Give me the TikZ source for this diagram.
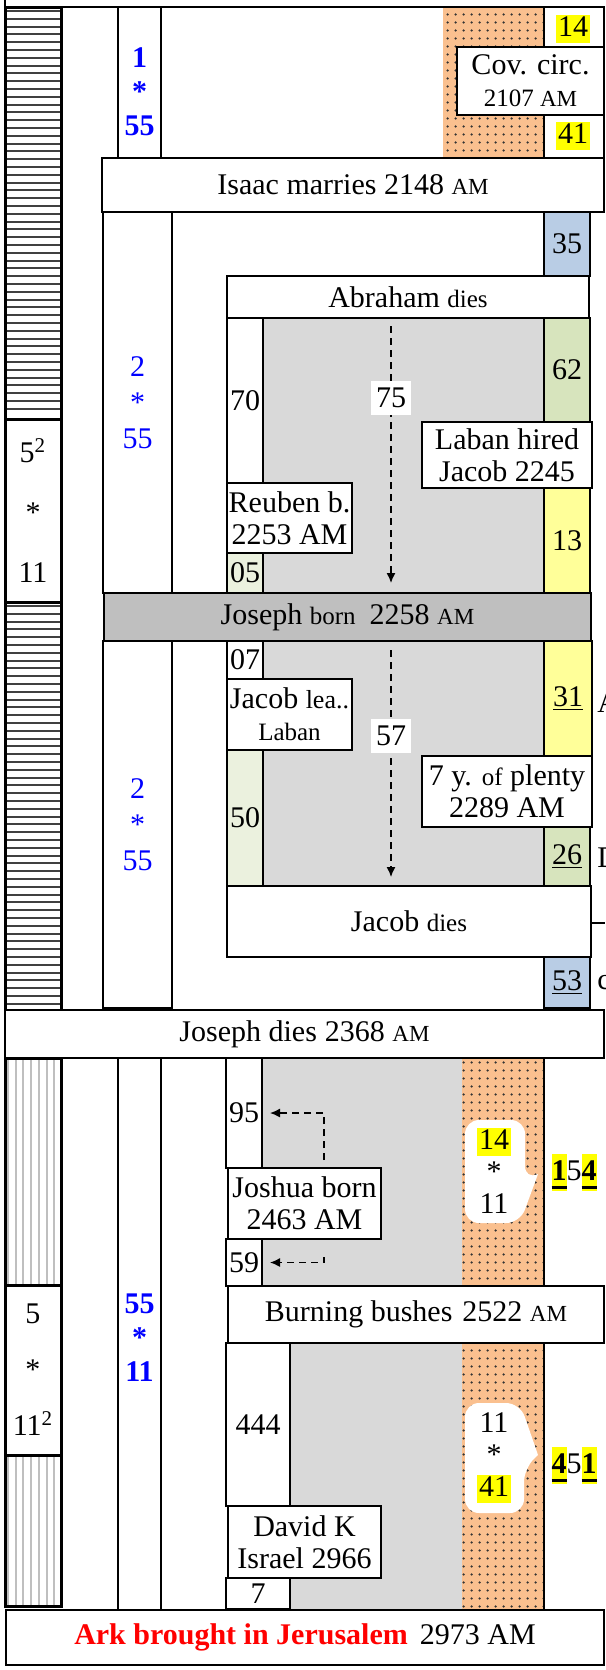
\documentclass[tikz,border=0pt]{standalone}
\usepackage{fontspec}
\setmainfont{Liberation Serif}
\usepackage{xcolor}
\usetikzlibrary{arrows.meta,patterns.meta}
\definecolor{numblue}{RGB}{0,0,255}
\definecolor{arkred}{RGB}{255,0,0}
\definecolor{lifegray}{RGB}{217,217,217}
\definecolor{bargray}{RGB}{191,191,191}
\definecolor{bandorange}{RGB}{250,192,143}
\definecolor{cellblue}{RGB}{185,205,229}
\definecolor{cellgreen}{RGB}{215,228,189}
\definecolor{palegreen}{RGB}{235,241,222}
\definecolor{cellyellow}{RGB}{255,255,153}
\definecolor{hlyellow}{RGB}{255,255,0}
\newsavebox{\digbox}
\newcommand{\sam}{{\fontsize{11.5}{12}\selectfont AM}}
\newcommand{\sml}[1]{{\fontsize{12.5}{13}\selectfont #1}}
\newcommand{\hl}[1]{{\setlength{\fboxsep}{0.8pt}\colorbox{hlyellow}{\rule[-2.4pt]{0pt}{12.4pt}#1}}}
\newcommand{\hlul}[1]{{\setlength{\fboxsep}{0pt}\sbox{\digbox}{\textbf{#1}}%
  \colorbox{hlyellow}{\rule[-5pt]{0pt}{18.5pt}\rlap{\rule[-4.4pt]{\wd\digbox}{1.8pt}}\usebox{\digbox}}}}
% box from (x1,y1) to (x2,y2), pixel units
\newcommand{\databox}[7][]{%
  \node[cellbox,minimum width={(#5-#3)*0.5pt},minimum height={(#6-#4)*0.5pt},#1]
    (#2) at ({(#3+#5)/2},{(#4+#6)/2}) {#7};}
\tikzset{
  cellbox/.style={draw, line width=0.6pt, fill=white, inner sep=0pt, outer sep=0pt, align=center},
  colframe/.style={draw, line width=1.5pt},
  hatchline/.style={line width=1pt, black!75},
  vhatch/.style={line width=1pt, black!25},
  band/.style={preaction={fill=bandorange}, pattern={Dots[distance=4pt, radius=0.7pt]}, pattern color=black!80},
  dasharrow/.style={dash pattern=on 3.5pt off 2.5pt, line width=0.7pt, -{Latex[length=5pt,width=4.5pt]}},
  numlbl/.style={fill=white, inner xsep=2.5pt, inner ysep=3.5pt},
  bubble/.style={fill=white, rounded corners=7pt}
}
\begin{document}
\begin{tikzpicture}[x=0.5pt, y=-0.5pt, font=\fontsize{15}{16}\selectfont]
\useasboundingbox (0,0) rectangle (605,1670);
% backgrounds
\fill[lifegray] (263,318) rectangle (544,593);
\fill[lifegray] (263,641) rectangle (544,886);
\fill[lifegray] (262,1058) rectangle (462,1286);
\fill[lifegray] (290,1343) rectangle (462,1609);
\path[band] (443,7) rectangle (544,158);
\path[band] (462,1058) rectangle (544,1286);
\path[band] (462,1343) rectangle (544,1609);
\draw[line width=0.6pt] (544,1058) -- (544,1286);
\draw[line width=0.6pt] (544,1343) -- (544,1609);
\draw[line width=0.6pt] (5,0) -- (5,7) -- (604,7);
% left columns
\foreach \hy in {11,18.8,...,416} \draw[hatchline] (6,\hy) -- (60,\hy);
\foreach \hy in {606,613.8,...,1007} \draw[hatchline] (6,\hy) -- (60,\hy);
\foreach \vx in {8,15.7,...,59} {
  \draw[vhatch] (\vx,1058) -- (\vx,1285);
  \draw[vhatch] (\vx,1455) -- (\vx,1606);
}
\draw[colframe] (5,7) rectangle (61,1010);
\draw[colframe] (5,1058) rectangle (61,1606);
\databox[line width=1.5pt]{pow1}{5}{419}{61}{602}{5\textsuperscript{2}\\[14pt]{*}\\[14pt]11}
\databox[line width=1.5pt]{pow2}{5}{1285}{61}{1455}{5\\[12pt]{*}\\[12pt]11\textsuperscript{2}}
% top section
\databox{col1}{118}{7}{161}{158}{}
\node[text=numblue, font=\fontsize{15}{17}\selectfont\bfseries, align=center] (f1) at (139.5,92) {1\\{*}\\55};
\databox{rtop}{544}{7}{604}{158}{}
\node (n14) at (573,29) {\hl{14}};
\node (n41) at (573,136) {\hl{41}};
\databox{cov}{457}{47}{604}{115}{Cov. circ.\\\sml{2107 \sam}}
\databox{isaac}{102}{158}{604}{212}{Isaac marries 2148 \sam}
% upper middle
\databox[text=numblue]{col2a}{103}{212}{172}{593}{2\\[2pt]{*}\\[2pt]55}
\databox[fill=cellblue]{b35}{544}{212}{590}{276}{35}
\databox{abraham}{227}{276}{589}{318}{Abraham \sml{dies}}
\databox{b70}{227}{318}{263}{483}{70}
\databox[fill=cellgreen]{b62}{544}{318}{590}{422}{62}
\databox{laban}{422}{422}{592}{488}{Laban hired\\Jacob 2245}
\databox[fill=cellyellow]{b13}{544}{488}{590}{593}{13}
\databox{reuben}{227}{483}{352}{553}{Reuben b.\\2253 AM}
\databox[fill=palegreen]{b05}{227}{553}{263}{593}{05}
\coordinate (top75) at (391,326);
\coordinate (end75) at (391,583);
\draw[dasharrow] (top75) -- node[numlbl, pos=0.28] (l75) {75} (end75);
\databox[fill=bargray]{jborn}{104}{593}{591}{641}{Joseph \sml{born}\hspace{7pt}2258 \sam}
% lower middle
\databox[text=numblue]{col2b}{103}{641}{172}{1008}{2\\[2pt]{*}\\[2pt]55}
\databox{b07}{227}{641}{263}{679}{07}
\databox{jlea}{227}{679}{352}{750}{Jacob {\fontsize{13}{14}\selectfont lea..}\\\sml{Laban}}
\databox[fill=palegreen]{b50}{227}{750}{263}{886}{50}
\databox[fill=cellyellow]{b31}{544}{641}{592}{756}{\underline{31}}
\databox{plenty}{422}{756}{592}{827}{7 y. \sml{of} plenty\\2289 AM}
\databox[fill=cellgreen]{b26}{544}{827}{590}{886}{\underline{26}}
\databox{jdies}{227}{886}{591}{957}{Jacob \sml{dies}}
\databox[fill=cellblue]{b53}{544}{957}{590}{1008}{\underline{53}}
\coordinate (top57) at (391,650);
\coordinate (end57) at (391,877);
\draw[dasharrow] (top57) -- node[numlbl, pos=0.38] (l57) {57} (end57);
\coordinate (offright) at (605,923);
\draw[line width=0.6pt] (jdies.east |- offright) -- (offright);
\begin{scope}
\clip (0,0) rectangle (605,1670);
\node[anchor=west, inner sep=0pt] (fragA) at (597,703) {A};
\node[anchor=west, inner sep=0pt] (fragD) at (597,858) {D};
\node[anchor=west, inner sep=0pt] (fragC) at (597,983) {c};
\end{scope}
\databox{jdeath}{5}{1010}{604}{1058}{Joseph dies\hspace{4pt}2368 \sam}
% bottom section
\databox{col3}{118}{1058}{161}{1610}{}
\node[text=numblue, font=\fontsize{15}{17}\selectfont\bfseries, align=center] (f3) at (139.5,1338) {55\\{*}\\11};
\databox{b95}{226}{1058}{262}{1168}{95}
\databox{joshua}{228}{1168}{381}{1239}{Joshua born\\2463 AM}
\databox{b59}{226}{1239}{262}{1286}{59}
\coordinate (j95) at (324,1160);
\coordinate (j59) at (324,1257);
\draw[dasharrow, shorten >=4pt] (j95) |- (b95.east);
\draw[dasharrow, shorten >=4pt] (j59) |- (b59.east);
% speech bubbles
\path[bubble] (465,1120) -- (525,1120) -- (525,1180) [sharp corners] -- (538,1174)
  [rounded corners=7pt] -- (520,1223) -- (465,1223) -- cycle;
\node[align=center] (bub1) at (494,1171) {\hl{14}\\{*}\\11};
\node (n154) at (574,1172) {\hlul{1}5\hlul{4}};
\databox{bushes}{228}{1286}{604}{1343}{Burning bushes\hspace{5pt}2522 \sam}
\databox{b444}{226}{1343}{290}{1506}{444}
\databox{david}{228}{1506}{381}{1578}{David K\\Israel 2966}
\databox{b7}{226}{1578}{290}{1609}{7}
\path[bubble] (465,1403) -- (520,1403) [sharp corners] -- (538,1455)
  [rounded corners=7pt] -- (524,1468) -- (524,1513) -- (465,1513) -- cycle;
\node[align=center] (bub2) at (494,1458) {11\\{*}\\\hl{41}};
\node (n451) at (574,1465) {\hlul{4}5\hlul{1}};
\databox{ark}{6}{1610}{604}{1665}{{\color{arkred}\bfseries Ark brought in Jerusalem}\hspace{6pt}2973 AM}
\end{tikzpicture}
\end{document}
